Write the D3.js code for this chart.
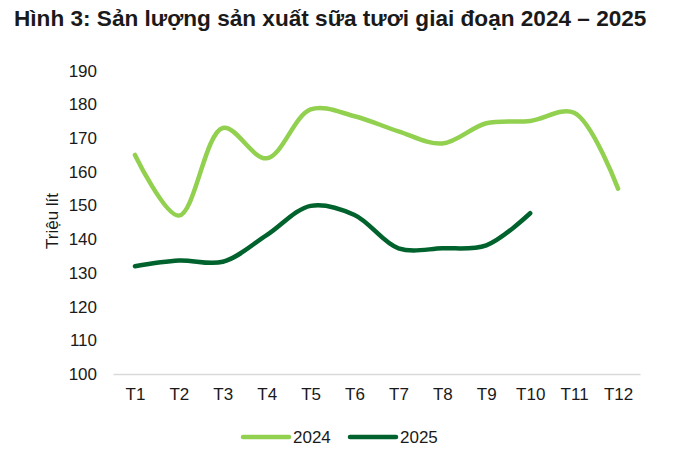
<!DOCTYPE html>
<html><head><meta charset="utf-8">
<script src="https://cdn.jsdelivr.net/npm/d3@7"></script>
<style>body{margin:0;background:#fff}svg{display:block;font-family:"Liberation Sans",Arial,sans-serif}</style>
</head><body><svg id="c" width="690" height="455"></svg>
<script>
const months = ["T1","T2","T3","T4","T5","T6","T7","T8","T9","T10","T11","T12"];
const values2024 = [165,147,173,164,178.5,176.5,172,168.4,174.4,175.1,177.5,155];
const values2025 = [132,133.7,133.3,141.2,149.9,147.2,137.3,137.3,138.2,147.7];
const yTicks = [100,110,120,130,140,150,160,170,180,190];
const seriesNames = ["2024","2025"];
const colors = ["#92D050","#00622D"];

const svg = d3.select("#c");
const x = d3.scalePoint().domain(months).range([113,640]).padding(0.5);
const y = d3.scaleLinear().domain([100,190]).range([374,70.7]);

svg.append("text").attr("x",14).attr("y",26)
  .attr("font-weight","bold").attr("font-size",22.6).attr("fill","#1a1a1a")
  .text("Hình 3: Sản lượng sản xuất sữa tươi giai đoạn 2024 – 2025");

// y axis
const ya = svg.append("g").attr("transform","translate(113,0)")
  .call(d3.axisLeft(y).tickValues(yTicks).tickSize(0).tickPadding(16));
ya.select(".domain").remove();
ya.selectAll("text").attr("font-size",17).attr("fill","#1a1a1a").attr("font-family","Liberation Sans, Arial, sans-serif");

// x axis
const xa = svg.append("g").attr("transform","translate(0,374)")
  .call(d3.axisBottom(x).tickSize(0).tickPadding(14));
xa.select(".domain").attr("stroke","#d9d9d9").attr("stroke-width",1.5);
xa.selectAll("text").attr("font-size",17).attr("fill","#1a1a1a").attr("font-family","Liberation Sans, Arial, sans-serif");

svg.append("text").attr("transform","translate(58,221) rotate(-90)")
  .attr("text-anchor","middle").attr("font-size",17).attr("fill","#1a1a1a").text("Triệu lít");

const line = d3.line().x((d,i)=>x(months[i])).y(d=>y(d)).curve(d3.curveCatmullRom.alpha(0.5));
[values2024, values2025].forEach((vals,k)=>{
  svg.append("path").datum(vals).attr("d",line).attr("fill","none")
    .attr("stroke",colors[k]).attr("stroke-width",4.5).attr("stroke-linecap","round");
});

// legend
const lx = [243,350];
seriesNames.forEach((n,k)=>{
  svg.append("line").attr("x1",lx[k]).attr("x2",lx[k]+46).attr("y1",437).attr("y2",437)
    .attr("stroke",colors[k]).attr("stroke-width",4.5).attr("stroke-linecap","round");
  svg.append("text").attr("x",lx[k]+50).attr("y",443).attr("font-size",17).attr("fill","#1a1a1a").text(n);
});
</script></body></html>
